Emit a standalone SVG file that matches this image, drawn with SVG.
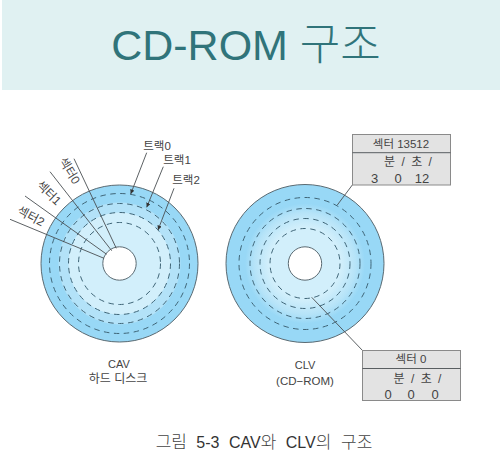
<svg xmlns="http://www.w3.org/2000/svg" width="500" height="471" viewBox="0 0 500 471">
<style>
text{font-family:"Liberation Sans","Noto Sans CJK KR",sans-serif;fill:#444;font-size:11.5px;text-anchor:middle}
.d{fill:none;stroke:#3f6577;stroke-width:1;stroke-dasharray:5.5 4.5}
.e{fill:none;stroke:#5a6a72;stroke-width:1}
.h{fill:#fff;stroke:#5a6a72;stroke-width:1}
.l{fill:none;stroke:#4a4f52;stroke-width:.9}
.b{fill:#e3e3e3;stroke:#8a8a8a;stroke-width:1}
.n{font-size:13px}
.m{word-spacing:3px;font-size:12px}
.k{font-size:17px;font-weight:300;fill:#444}
</style>
<defs>
<marker id="a" markerWidth="6" markerHeight="6" refX="5" refY="2.5" orient="auto"><path d="M0 0L5 2.5L0 5z" fill="#333"/></marker>
<radialGradient id="g" gradientUnits="userSpaceOnUse" cx="305" cy="263.5" r="60"><stop offset="0.6" stop-color="#d2effb"/><stop offset="0.85" stop-color="#b5e3f8"/><stop offset="1" stop-color="#98d8f6"/></radialGradient>
</defs>
<rect x="2" y="0" width="498" height="90" fill="#e0f1f2"/>
<text id="title" x="246" y="60" style="font-size:43px;fill:#30747a">CD-ROM <tspan style="font-weight:300;font-size:44px">구조</tspan></text>
<g id="cav">
<circle cx="119.5" cy="263.5" r="78.5" fill="#98d8f6"/>
<circle cx="119.5" cy="263.5" r="61" fill="#b3e2f8"/>
<circle cx="119.5" cy="263.5" r="51" fill="#d2effb"/>
<circle cx="119.5" cy="263.5" r="78.5" class="e"/>
<circle cx="119.5" cy="263.5" r="70" class="d"/>
<circle cx="119.5" cy="263.5" r="60" class="d"/>
<circle cx="119.5" cy="263.5" r="51" class="d"/>
<circle cx="119.5" cy="263.5" r="41" class="d"/>
<circle cx="119.5" cy="263.5" r="16.7" class="h"/>
<text x="119" y="368" style="font-size:11px">CAV</text>
<text x="118" y="383" style="font-size:12px">하드 디스크</text>
</g>
<g id="clv">
<circle cx="305" cy="263.5" r="79" fill="#98d8f6"/>
<circle cx="305" cy="263.5" r="60" fill="url(#g)"/>
<circle cx="305" cy="263.5" r="79" class="e"/>
<circle cx="305" cy="263.5" r="66" class="d"/>
<circle cx="305" cy="263.5" r="55" class="d"/>
<circle cx="305" cy="263.5" r="45" class="d"/>
<circle cx="305" cy="263.5" r="35" class="d"/>
<circle cx="305" cy="263.5" r="16.7" class="h"/>
<text x="305" y="369" style="font-size:11px">CLV</text>
<text x="305" y="385" style="font-size:11.5px">(CD−ROM)</text>
</g>
<g id="connectors">
<path class="l" d="M74 158.7L116.3 248.3M50 171.7L111.7 250.7M25 196L106.7 254.3M10 219.3L104 258.3"/>
<path class="l" marker-end="url(#a)" d="M146.7 152.7L130.7 194"/>
<path class="l" marker-end="url(#a)" d="M163.3 166.7L146.7 207.3"/>
<path class="l" marker-end="url(#a)" d="M174 188.3L158 230"/>
<path class="l" d="M352.3 185L337.3 205M362.7 350.7L311.7 297.3"/>
</g>
<g id="labels">
<text x="157" y="150">트랙0</text>
<text x="177" y="164">트랙1</text>
<text x="186" y="184">트랙2</text>
<text transform="translate(66 173) rotate(58)" style="font-size:12px">섹터0</text>
<text transform="translate(46 196) rotate(44)" style="font-size:12px">섹터1</text>
<text transform="translate(29 220) rotate(28)" style="font-size:12px">섹터2</text>
</g>
<g id="box1">
<rect class="b" x="352.5" y="134.5" width="98" height="50.5"/>
<path class="l" d="M352.5 152.7H450.5"/>
<text x="401" y="148">섹터 13512</text>
<text x="408" y="166" class="m">분 / 초 /</text>
<text x="374.5" y="183" class="n">3</text>
<text x="398" y="183" class="n">0</text>
<text x="422" y="183" class="n">12</text>
</g>
<g id="box2">
<rect class="b" x="362.5" y="350.5" width="98" height="50"/>
<path class="l" d="M362.5 368.5H460.5"/>
<text x="411" y="363">섹터 0</text>
<text x="417.5" y="383" class="m">분 / 초 /</text>
<text x="388" y="398.5" class="n">0</text>
<text x="411" y="398.5" class="n">0</text>
<text x="435" y="398.5" class="n">0</text>
</g>
<text id="caption" x="264" y="448" style="font-size:16px;fill:#333;word-spacing:5px"><tspan class="k">그림</tspan> 5-3 CAV<tspan class="k">와</tspan> CLV<tspan class="k">의 구조</tspan></text>
</svg>
